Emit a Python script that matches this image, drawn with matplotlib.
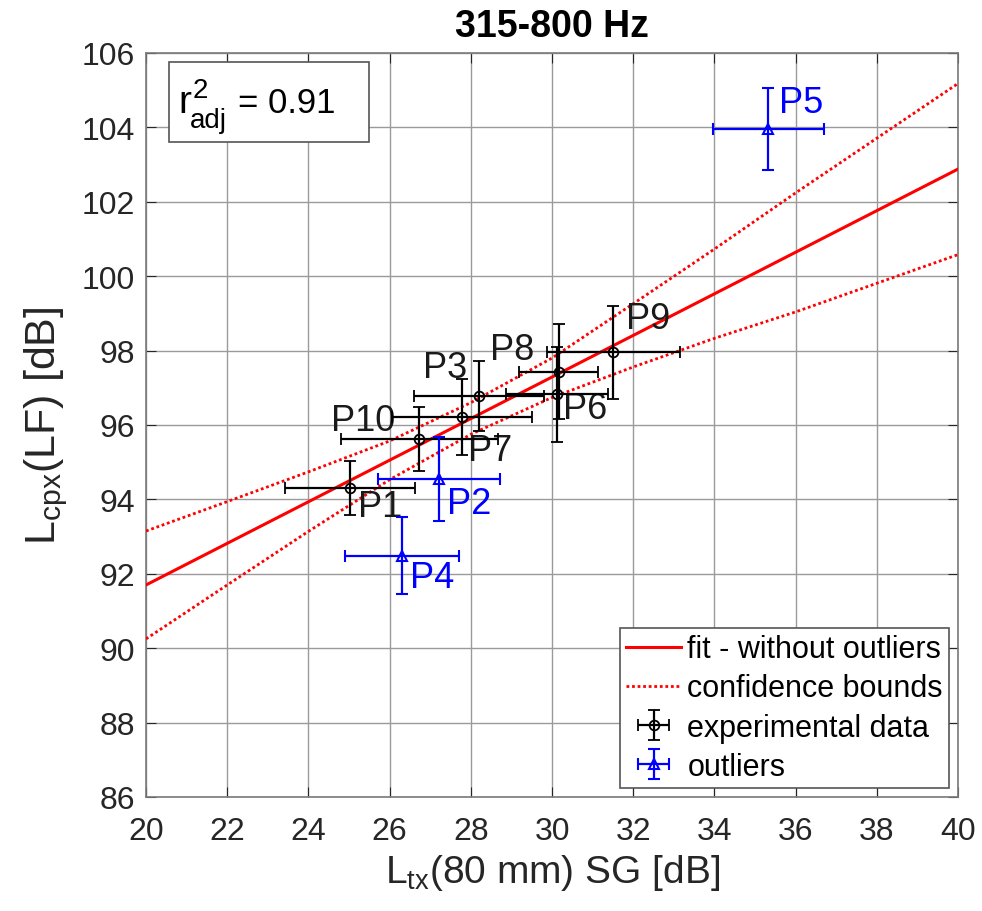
import numpy as np
import matplotlib
matplotlib.use('Agg')
import matplotlib.pyplot as plt
from matplotlib.patches import Rectangle

plt.rcParams['font.family'] = ['Liberation Sans', 'DejaVu Sans']
plt.rcParams['mathtext.fontset'] = 'custom'
plt.rcParams['mathtext.rm'] = 'Liberation Sans'
plt.rcParams['mathtext.it'] = 'Liberation Sans'

# experimental data (kept in the fit)
names = ['P1', 'P10', 'P7', 'P3', 'P6', 'P8', 'P9']
x_data = [25.02, 26.73, 27.78, 28.21, 30.12, 30.16, 31.51]
y_data = [94.30, 95.62, 96.21, 96.79, 96.83, 97.43, 97.95]
xerr_data = [1.60, 1.94, 1.72, 1.60, 1.25, 0.98, 1.63]
yerr_data = [0.72, 0.86, 1.03, 0.94, 1.28, 1.28, 1.24]

# outliers
out_names = ['P2', 'P4', 'P5']
x_out = [27.21, 26.30, 35.33]
y_out = [94.55, 92.49, 103.96]
xerr_out = [1.50, 1.40, 1.37]
yerr_out = [1.12, 1.03, 1.10]

# fitted line and confidence bounds
fit_x = [20, 40]
fit_y = [91.70, 102.88]
bound_x = [20, 22, 24, 26, 28, 30, 32, 34, 36, 38, 40]
upper = [93.15, 93.94, 94.74, 95.57, 96.60, 97.80, 99.26, 100.73, 102.24, 103.71, 105.18]
lower = [90.25, 91.70, 93.14, 94.53, 95.75, 96.74, 97.56, 98.33, 99.04, 99.81, 100.58]

# label offsets (dx, dy, ha)
lab_off = {'P1': (0.2, -0.5, 'left'), 'P10': (-0.6, 0.5, 'right'),
           'P7': (0.15, -0.9, 'left'), 'P3': (-0.3, 0.75, 'right'),
           'P6': (0.15, -0.4, 'left'), 'P8': (-0.6, 0.6, 'right'),
           'P9': (0.3, 0.9, 'left'), 'P2': (0.2, -0.65, 'left'),
           'P4': (0.2, -0.6, 'left'), 'P5': (0.25, 0.72, 'left')}

fig = plt.figure(figsize=(9.82, 9.12), dpi=100)
ax = fig.add_axes([0.1487, 0.125, 0.8269, 0.8158])

ax.plot(fit_x, fit_y, color='#ff0000', lw=2.2, label='fit - without outliers', zorder=3)
ax.plot(bound_x, upper, color='#ff0000', lw=2, ls=(0, (1, 1)), label='confidence bounds', zorder=3)
ax.plot(bound_x, lower, color='#ff0000', lw=2, ls=(0, (1, 1)), zorder=3)

ax.errorbar(x_data, y_data, xerr=xerr_data, yerr=yerr_data, fmt='o', color='black',
            mfc='none', ms=7, mew=1.3, elinewidth=1.6, capsize=4, capthick=1.6,
            label='experimental data', zorder=4)
ax.errorbar(x_out, y_out, xerr=xerr_out, yerr=yerr_out, fmt='^', color='#0000ff',
            mfc='none', ms=7, mew=1.5, elinewidth=1.6, capsize=4, capthick=1.6,
            label='outliers', zorder=4)

for n, x, y in zip(names, x_data, y_data):
    dx, dy, ha = lab_off[n]
    ax.text(x + dx, y + dy, n, fontsize=26, ha=ha, va='center', color='#1a1a1a')
for n, x, y in zip(out_names, x_out, y_out):
    dx, dy, ha = lab_off[n]
    ax.text(x + dx, y + dy, n, fontsize=26, ha=ha, va='center', color='#0000ff')

ax.set_xlim(20, 40)
ax.set_ylim(86, 106)
ax.set_xticks(np.arange(20, 41, 2))
ax.set_yticks(np.arange(86, 107, 2))
ax.tick_params(direction='in', top=True, right=True, labelsize=23, length=7,
               color='#262626', labelcolor='#262626')
ax.tick_params(axis='x', pad=14)
ax.tick_params(axis='y', pad=8)
ax.grid(True, color='#9a9a9a', lw=1)
for s in ax.spines.values():
    s.set_color('#7a7a7a')
    s.set_linewidth(1.2)

ax.set_title('315-800 Hz', fontsize=27, fontweight='bold', pad=12)
ax.set_xlabel('L$_{tx}$(80 mm) SG [dB]', fontsize=28, color='#262626', labelpad=4)
ax.set_ylabel('L$_{cpx}$(LF) [dB]', fontsize=31, color='#262626', labelpad=8)

# r^2 box
ax.add_patch(Rectangle((0.0283, 0.880), 0.2463, 0.108, transform=ax.transAxes,
                       fc='white', ec='#555555', lw=1.2, zorder=5))
ax.text(0.0394, 0.9207, 'r', transform=ax.transAxes, fontsize=28, va='baseline', zorder=6)
ax.text(0.0579, 0.9409, '2', transform=ax.transAxes, fontsize=20, va='baseline', zorder=6)
ax.text(0.0542, 0.9005, 'adj', transform=ax.transAxes, fontsize=20, va='baseline', zorder=6)
ax.text(0.1133, 0.9207, '= 0.91', transform=ax.transAxes, fontsize=25, va='baseline', zorder=6)

leg = ax.legend(loc='lower right', fontsize=22, fancybox=False, framealpha=1,
                edgecolor='#555555', handlelength=1.8, borderpad=0.2,
                labelspacing=0.3, handletextpad=0.2, borderaxespad=0.3)
leg.get_frame().set_linewidth(1.2)

fig.savefig('out.png', dpi=100)
